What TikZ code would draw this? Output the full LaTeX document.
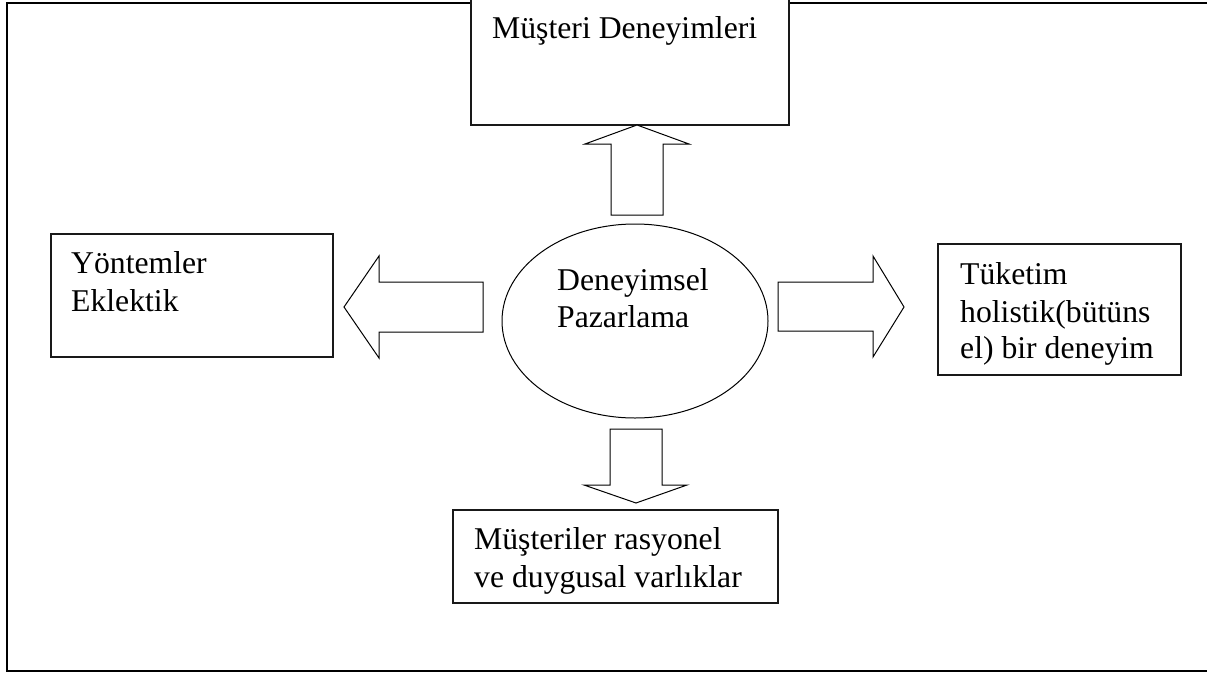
\documentclass[tikz,border=0pt]{standalone}
\usepackage{fontspec}
\setmainfont{Liberation Serif}
\usetikzlibrary{shapes.geometric}
\begin{document}
\begin{tikzpicture}[x=1pt,y=-1pt,
  box/.style={draw=black!90,line width=1.3pt,fill=white},
  blockarrow/.style={draw=black,line width=1pt,fill=white,line join=miter},
  label/.style={anchor=base west,inner sep=0pt,font=\fontsize{31.7}{37}\selectfont}]
\useasboundingbox (0,0) rectangle (1207,672);

% outer frame (open on the right)
\draw[line width=2pt] (1215,3) -- (7,3) -- (7,671) -- (1215,671);

% boxes
\draw[box] (471,-5) rectangle (789,125);
\draw[box] (51,234) rectangle (333,357);
\draw[box] (938,244) rectangle (1181,375);
\draw[box] (453,510) rectangle (778,603);

% central ellipse
\node[draw,line width=1pt,ellipse,minimum width=266pt,minimum height=194pt,inner sep=0pt] (center) at (635,321) {};

% block arrows
\draw[blockarrow] (611,215) -- (611,144) -- (585,144) -- (637,125) -- (689,144) -- (663,144) -- (663,215) -- cycle;
\draw[blockarrow] (483,282) -- (379,282) -- (379,256) -- (344,307) -- (379,358) -- (379,332) -- (483,332) -- cycle;
\draw[blockarrow] (778,282) -- (873,282) -- (873,256) -- (904,307) -- (873,357) -- (873,331) -- (778,331) -- cycle;
\draw[blockarrow] (610,429) -- (662,429) -- (662,485) -- (687,485) -- (636,503) -- (584,485) -- (610,485) -- cycle;

% texts
\node[label] (t1) at (492,38) {Müşteri Deneyimleri};
\node[label] (t2) at (71,273) {Yöntemler};
\node[label] (t3) at (71,311) {Eklektik};
\node[label] (t4) at (557,290) {Deneyimsel};
\node[label] (t5) at (557,327) {Pazarlama};
\node[label] (t6) at (960,284) {Tüketim};
\node[label] (t7) at (960,322) {holistik(bütüns};
\node[label] (t8) at (960,358) {el) bir deneyim};
\node[label] (t9) at (474,549) {Müşteriler rasyonel};
\node[label] (t10) at (474,587) {ve duygusal varlıklar};
\end{tikzpicture}
\end{document}
